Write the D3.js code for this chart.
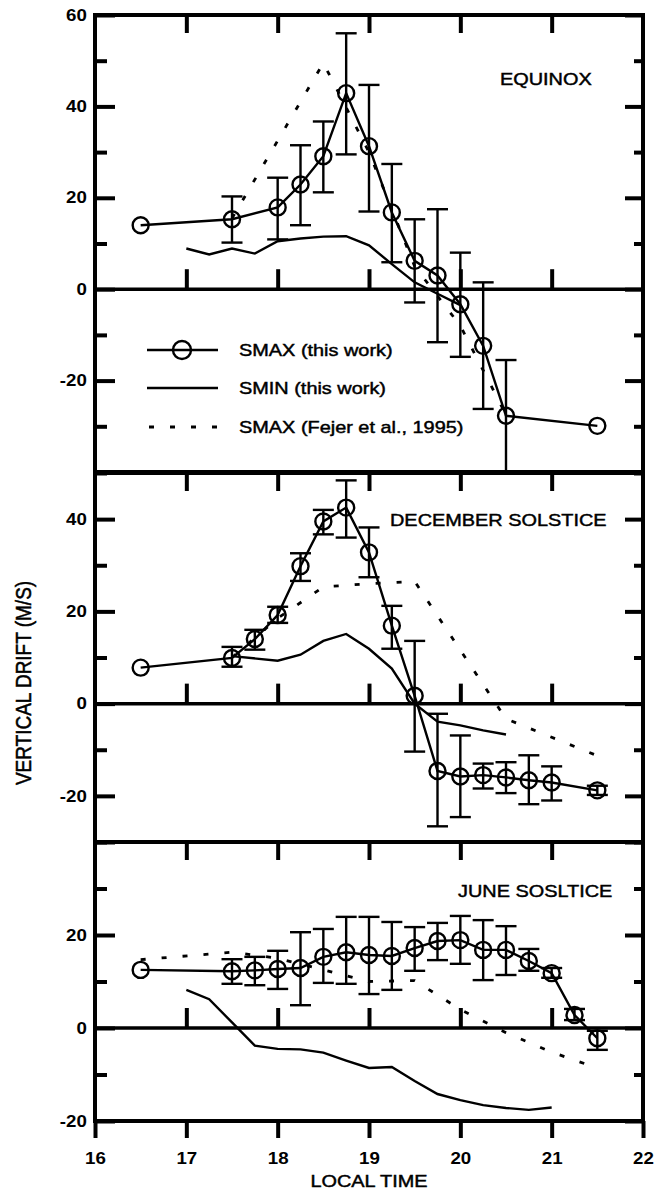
<!DOCTYPE html>
<html><head><meta charset="utf-8">
<script src="https://cdn.jsdelivr.net/npm/d3@7"></script>
<style>body{margin:0;background:#fff} svg{display:block} text{font-family:"Liberation Sans",Arial,Helvetica,sans-serif;fill:#000}</style>
</head><body><svg id="c" width="665" height="1190"></svg>
<script>
// ---------------- data ----------------
const xTickVals = [16,17,18,19,20,21,22];
const panelNames = ["EQUINOX","DECEMBER SOLSTICE","JUNE SOSLTICE"];
const legendLabels = ["SMAX (this work)","SMIN (this work)","SMAX (Fejer et al., 1995)"];
const yTitle = "VERTICAL DRIFT (M/S)";
const xTitle = "LOCAL TIME";

// Equinox
const eqLabels = [60,40,20,0,-20];
const eqT    = [16.5,17.5,18,18.25,18.5,18.75,19,19.25,19.5,19.75,20,20.25,20.5,21.5];
const eqSmax = [14.0,15.3,17.9,22.9,29.1,42.9,31.3,16.8,6.2,3.0,-3.3,-12.4,-27.7,-29.9];
const eqHi   = [null,20.3,24.4,31.5,36.7,56,44.7,27.4,15.3,17.5,8.0,1.5,-15.5,null];
const eqLo   = [null,10.2,10.9,14,21.2,29.5,17,5.9,-2.9,-11.6,-14.8,-26.2,-40,null];
const eqSminT = [17,17.25,17.5,17.75,18,18.25,18.5,18.75,19,19.25,19.5,19.75,20];
const eqSminV = [8.9,7.6,8.9,7.8,10.5,11.1,11.5,11.6,9.6,5.5,1.5,-1.0,-3.5];
const eqFejT  = [17.5,18.5,19,19.5,20,20.5];
const eqFejV  = [15.5,49.5,30,5,-8,-27.5];

// December solstice
const dcLabels = [40,20,0,-20];
const dcT    = [16.5,17.5,17.75,18,18.25,18.5,18.75,19,19.25,19.5,19.75,20,20.25,20.5,20.75,21,21.5];
const dcSmax = [7.8,9.9,14.0,19.2,29.8,39.5,42.5,32.8,16.9,1.7,-14.6,-15.8,-15.5,-16.0,-16.6,-17.1,-18.8];
const dcHi   = [null,12.3,16,21,32.6,42,48.4,38.2,21.2,13.6,-2.2,-6.9,-13,-12.7,-11.2,-13.6,-17.8];
const dcLo   = [null,8.0,11.7,17.5,26.6,36.7,36,27.4,11.9,-10.4,-26.6,-24.6,-18.4,-19.4,-21.8,-21,-19.8];
const dcSminT = [17.5,18,18.25,18.5,18.75,19,19.25,19.5,19.75,20,20.25,20.5];
const dcSminV = [10.3,9.3,10.6,13.6,15.1,11.9,7.6,0,-3.9,-4.7,-5.8,-6.7];
const dcFejT  = [17.5,18,18.5,19,19.5,20.5,21.5];
const dcFejV  = [10,18.5,25.3,26,26.5,-3.3,-11.3];

// June solstice
const jnLabels = [20,0,-20];
const jnT    = [16.5,17.5,17.75,18,18.25,18.5,18.75,19,19.25,19.5,19.75,20,20.25,20.5,20.75,21,21.25,21.5];
const jnSmax = [12.5,12.2,12.4,12.7,12.9,15.3,16.3,15.7,15.5,17.2,18.7,18.9,16.8,16.8,14.4,11.8,2.8,-2.2];
const jnHi   = [null,14.8,15.3,16.6,20.6,21.3,23.9,23.9,22.8,21.7,22.6,24.1,23.2,21.9,17,12.9,4.1,-0.6];
const jnLo   = [null,9.5,9.2,8.4,4.9,9.7,9.5,7.3,8.2,12.3,14.6,13.8,10.3,11.4,12.3,10.8,1.7,-4.7];
const jnSminT = [17,17.25,17.5,17.75,18,18.25,18.5,18.75,19,19.25,19.5,19.75,20,20.25,20.5,20.75,21];
const jnSminV = [8.2,6.2,1.2,-3.8,-4.5,-4.6,-5.3,-7,-8.6,-8.4,-11.4,-14.2,-15.5,-16.6,-17.2,-17.6,-17.1];
const jnFejT  = [16.5,17.5,18,18.5,19,19.5,20,20.5,21,21.5];
const jnFejV  = [14.7,16.3,15,12.5,10,10.2,4,-1,-5.2,-8.6];

// ---------------- layout ----------------
const svg = d3.select('#c');
const X0 = 95, X1 = 643, SX = 1.17;
const FRAME = 4, LW = 2.4, R = 8, CAP = 10.5, DASH = "5,16";
const x = d3.scaleLinear().domain([16,22]).range([X0,X1]);

const panels = [
  {name:panelNames[0], dom:[-40,60], top:15,  bot:472,  labels:eqLabels, t:eqT, v:eqSmax, hi:eqHi, lo:eqLo,
   sT:eqSminT, sV:eqSminV, fT:eqFejT, fV:eqFejV, nameX:500, nameY:85},
  {name:panelNames[1], dom:[-30,50], top:473, bot:842,  labels:dcLabels, t:dcT, v:dcSmax, hi:dcHi, lo:dcLo,
   sT:dcSminT, sV:dcSminV, fT:dcFejT, fV:dcFejV, nameX:390, nameY:526},
  {name:panelNames[2], dom:[-20,40], top:842, bot:1121, labels:jnLabels, t:jnT, v:jnSmax, hi:jnHi, lo:jnLo,
   sT:jnSminT, sV:jnSminV, fT:jnFejT, fV:jnFejV, nameX:458, nameY:897}
];

function stretchText(g, px, py, str, size, weight, anchor, rot){
  const gg = g.append('g').attr('transform', `translate(${px},${py}) scale(${SX},1)` + (rot ? ` rotate(${rot})` : ''));
  gg.append('text').attr('font-size', size).attr('font-weight', weight || 'normal')
    .attr('text-anchor', anchor || 'start').attr('stroke','#000').attr('stroke-width',0.45).text(str);
  return gg;
}

function styleAxis(g){
  g.select('.domain').remove();
  g.selectAll('.tick line').attr('stroke','#000').attr('stroke-width',FRAME);
  g.selectAll('.tick text').attr('font-size',16).attr('font-weight','bold')
   .attr('font-family','"Liberation Sans",Arial,Helvetica,sans-serif');
}

panels.forEach((p, i) => {
  const y = d3.scaleLinear().domain(p.dom).range([p.bot, p.top]);
  const g = svg.append('g');
  const all10 = d3.range(p.dom[0], p.dom[1] + 0.001, 10);
  const major = all10.filter(d => d % 20 === 0);
  const minor = all10.filter(d => d % 20 !== 0);

  // left axis (inward ticks)
  const la = g.append('g').attr('transform', `translate(${X0},0)`)
    .call(d3.axisLeft(y).tickValues(major).tickSize(-20).tickPadding(7)
      .tickFormat(d => p.labels.includes(d) ? String(d) : ''));
  styleAxis(la);
  la.selectAll('.tick text').attr('transform', `scale(${SX},1)`);
  styleAxis(g.append('g').attr('transform', `translate(${X0},0)`)
    .call(d3.axisLeft(y).tickValues(minor).tickSize(-12).tickFormat('')));
  // right axis (inward ticks)
  styleAxis(g.append('g').attr('transform', `translate(${X1},0)`)
    .call(d3.axisRight(y).tickValues(major).tickSize(-18).tickFormat('')));
  styleAxis(g.append('g').attr('transform', `translate(${X1},0)`)
    .call(d3.axisRight(y).tickValues(minor).tickSize(-9).tickFormat('')));

  // top inward x ticks
  styleAxis(g.append('g').attr('transform', `translate(0,${p.top})`)
    .call(d3.axisBottom(x).tickValues(xTickVals.slice(1,-1)).tickSize(18).tickFormat('')));
  // zero line ticks (upward)
  styleAxis(g.append('g').attr('transform', `translate(0,${y(0)})`)
    .call(d3.axisTop(x).tickValues(xTickVals.slice(1,-1)).tickSize(20).tickFormat('')));

  // frame & zero line
  const fr = g.append('g').attr('stroke','#000').attr('stroke-width',FRAME).attr('stroke-linecap','square');
  fr.append('line').attr('x1',X0).attr('x2',X1).attr('y1',p.top).attr('y2',p.top);
  fr.append('line').attr('x1',X0).attr('x2',X1).attr('y1',p.bot).attr('y2',p.bot);
  fr.append('line').attr('x1',X0).attr('x2',X0).attr('y1',p.top).attr('y2',p.bot);
  fr.append('line').attr('x1',X1).attr('x2',X1).attr('y1',p.top).attr('y2',p.bot);
  fr.append('line').attr('x1',X0).attr('x2',X1).attr('y1',y(0)).attr('y2',y(0)).attr('stroke-width',3.5);

  // bottom axis with labels on last panel
  if (i === panels.length - 1) {
    const ba = g.append('g').attr('transform', `translate(0,${p.bot})`)
      .call(d3.axisBottom(x).tickValues(xTickVals).tickSize(17).tickPadding(15).tickFormat(d => String(d)));
    styleAxis(ba);
    ba.selectAll('.tick text').attr('transform', `scale(${SX},1)`);
  }

  const line = d3.line().x(d => x(d[0])).y(d => y(d[1]));
  const dg = g.append('g').attr('fill','none').attr('stroke','#000');

  // Fejer dotted
  dg.append('path').datum(d3.zip(p.fT, p.fV)).attr('d', line)
    .attr('stroke-width',2.8).attr('stroke-dasharray',DASH);
  // SMIN solid
  dg.append('path').datum(d3.zip(p.sT, p.sV)).attr('d', line).attr('stroke-width',LW);
  // SMAX line
  dg.append('path').datum(d3.zip(p.t, p.v)).attr('d', line).attr('stroke-width',LW);
  // error bars
  const eb = p.t.map((t,k) => ({t, hi:p.hi[k], lo:p.lo[k]})).filter(d => d.hi !== null);
  const ebg = dg.selectAll('g.eb').data(eb).join('g').attr('stroke-width',LW);
  ebg.append('line').attr('x1',d=>x(d.t)).attr('x2',d=>x(d.t)).attr('y1',d=>y(d.hi)).attr('y2',d=>y(d.lo));
  ebg.append('line').attr('x1',d=>x(d.t)-CAP).attr('x2',d=>x(d.t)+CAP).attr('y1',d=>y(d.hi)).attr('y2',d=>y(d.hi));
  ebg.append('line').attr('x1',d=>x(d.t)-CAP).attr('x2',d=>x(d.t)+CAP).attr('y1',d=>y(d.lo)).attr('y2',d=>y(d.lo));
  // circles
  dg.selectAll('circle').data(d3.zip(p.t, p.v)).join('circle')
    .attr('cx',d=>x(d[0])).attr('cy',d=>y(d[1])).attr('r',R).attr('stroke-width',LW);

  // panel label
  stretchText(g, p.nameX, p.nameY, p.name, 17, 'normal');
});

// legend (inside first panel)
const lg = svg.append('g');
const legY = [350, 388, 427];
legendLabels.forEach((lab, k) => {
  const ly = legY[k];
  const ln = lg.append('line').attr('x1',147).attr('x2',218).attr('y1',ly).attr('y2',ly)
    .attr('stroke','#000').attr('stroke-width', k===2 ? 2.8 : LW);
  if (k === 2) ln.attr('stroke-dasharray', DASH).attr('stroke-dashoffset', -2);
  if (k === 0) lg.append('circle').attr('cx',182).attr('cy',ly).attr('r',R+1)
    .attr('fill','none').attr('stroke','#000').attr('stroke-width',LW);
  stretchText(lg, 239, ly + 6, lab, 17, 'normal');
});

// axis titles
stretchText(svg, 369, 1187, xTitle, 17, 'normal', 'middle');
stretchText(svg, 31, 683, yTitle, 19, 'normal', 'middle', -90);
</script></body></html>
